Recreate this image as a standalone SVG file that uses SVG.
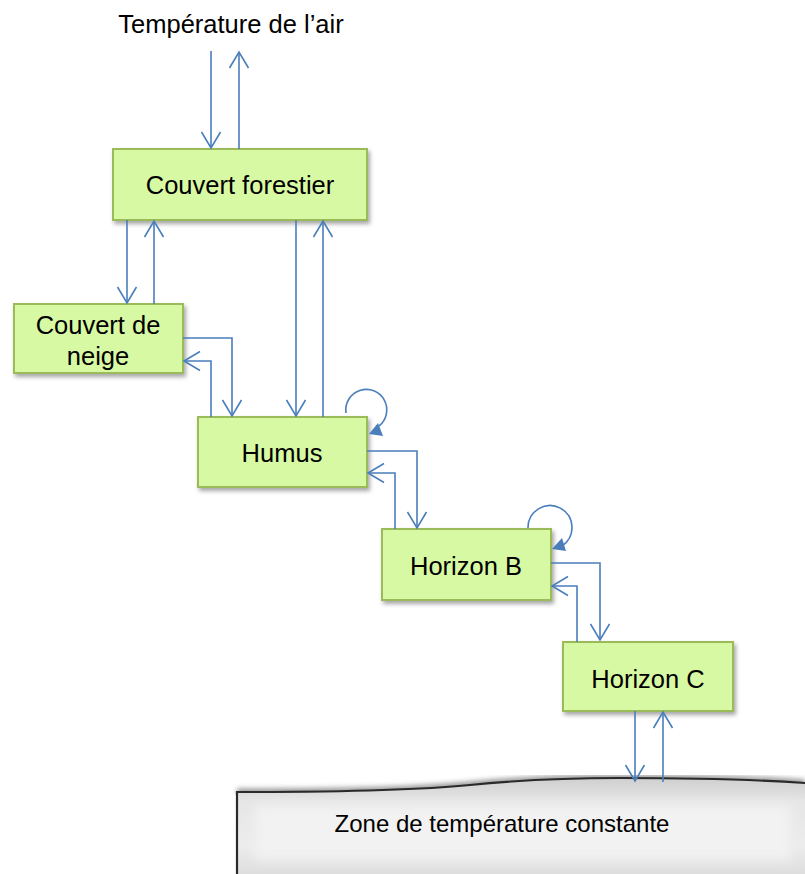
<svg xmlns="http://www.w3.org/2000/svg" width="805" height="874" viewBox="0 0 805 874">
<defs>
<style>
.box{fill:#d8f9a3;stroke:#9bbb59;stroke-width:2;filter:url(#sh)}
.lbl{font-family:"Liberation Sans",Arial,sans-serif;font-size:25.5px;fill:#000;text-anchor:middle}
.zl{font-size:24px}
.c{fill:none;stroke:#4a7ebb;stroke-width:1.6;marker-end:url(#ah)}
.loop{fill:none;stroke:#4a7ebb;stroke-width:1.6}
.tri{fill:#4a7ebb}
</style>
<marker id="ah" markerUnits="userSpaceOnUse" markerWidth="24" markerHeight="24" viewBox="-18 -12 20 24" refX="0" refY="0" orient="auto">
<path d="M-16,-9.5 L0,0 L-16,9.5" fill="none" stroke="#4a7ebb" stroke-width="1.6"/>
</marker>
<filter id="sh" x="-10%" y="-10%" width="130%" height="140%">
<feDropShadow dx="2" dy="3" stdDeviation="2" flood-color="#000" flood-opacity="0.35"/>
</filter>
<filter id="blur" x="-5%" y="-20%" width="110%" height="140%">
<feGaussianBlur stdDeviation="2.5"/>
</filter>
<filter id="blur2" x="-5%" y="-20%" width="110%" height="140%">
<feGaussianBlur stdDeviation="6"/>
</filter>
<linearGradient id="zg" x1="0" y1="0" x2="0" y2="1">
<stop offset="0" stop-color="#cfcfcf"/>
<stop offset="0.25" stop-color="#e6e6e6"/>
<stop offset="0.7" stop-color="#ececec"/>
<stop offset="1" stop-color="#dedede"/>
</linearGradient>
</defs>
<rect width="805" height="874" fill="#fff"/>

<g id="zone">
<path d="M237,792 C330,792 420,790 470,785 S560,778 620,778 S760,780 805,783" fill="none" stroke="#555" stroke-width="7" filter="url(#blur)" opacity="0.6"/>
<path d="M237,874 L237,792 C330,792 420,790 470,785 S560,778 620,778 S760,780 805,783 L805,874 Z" fill="url(#zg)"/>
<rect x="255" y="805" width="535" height="55" fill="#f2f2f2" filter="url(#blur2)"/>
<path d="M237,874 L237,792 C330,792 420,790 470,785 S560,778 620,778 S760,780 805,783" fill="none" stroke="#2a2a2a" stroke-width="2.2"/>
<text class="lbl zl" x="502" y="832">Zone de température constante</text>
</g>

<text id="air" class="lbl" x="231" y="33">Température de l’air</text>

<g id="couvert-forestier">
<rect class="box" x="113" y="149" width="254" height="71"/>
<text class="lbl" x="240" y="194">Couvert forestier</text>
</g>
<g id="couvert-neige">
<rect class="box" x="14" y="304" width="169" height="69"/>
<text class="lbl" x="98" y="334">Couvert de</text>
<text class="lbl" x="98" y="365">neige</text>
</g>
<g id="humus">
<rect class="box" x="198" y="417" width="169" height="70"/>
<text class="lbl" x="282" y="462">Humus</text>
</g>
<g id="horizon-b">
<rect class="box" x="382" y="529" width="169" height="71"/>
<text class="lbl" x="466" y="575">Horizon B</text>
</g>
<g id="horizon-c">
<rect class="box" x="563" y="642" width="170" height="69"/>
<text class="lbl" x="648" y="688">Horizon C</text>
</g>

<g id="connectors">
<path class="c" d="M211,51 L211,148"/>
<path class="c" d="M239,149 L239,52"/>
<path class="c" d="M127,220 L127,303"/>
<path class="c" d="M154,304 L154,221"/>
<path class="c" d="M296,220 L296,416"/>
<path class="c" d="M323,417 L323,221"/>
<path class="c" d="M183,338 L232,338 L232,416"/>
<path class="c" d="M211,417 L211,361 L184,361"/>
<path class="c" d="M367,451 L417,451 L417,528"/>
<path class="c" d="M395,529 L395,473 L368,473"/>
<path class="c" d="M551,563 L600,563 L600,640"/>
<path class="c" d="M577,642 L577,586 L552,586"/>
<path class="c" d="M635,711 L635,781"/>
<path class="c" d="M663,782 L663,712"/>
<path class="loop" d="M346,413 A20.5,20.5 0 1 1 379,426"/>
<polygon class="tri" points="369,434 383,436 378,423"/>
<path class="loop" d="M528,528 A22,22 0 1 1 562,546"/>
<polygon class="tri" points="552,549 566,551 562,538"/>
</g>
</svg>
